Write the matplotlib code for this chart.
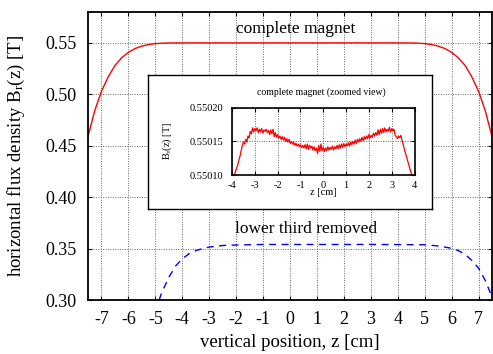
import numpy as np
import matplotlib
matplotlib.use('Agg')
import matplotlib.pyplot as plt

plt.rcParams['font.family'] = ['Liberation Serif', 'DejaVu Serif']
plt.rcParams['mathtext.fontset'] = 'custom'
plt.rcParams['mathtext.rm'] = 'Liberation Serif'
plt.rcParams['mathtext.it'] = 'Liberation Serif'
plt.rcParams['axes.unicode_minus'] = False

# ─── data ───

# complete magnet (red, solid)
z_full = [-7.5, -7.25, -7.0, -6.75, -6.5, -6.25, -6.0, -5.75, -5.5, -5.25, -5.0,
          -4.75, -4.5, -4.0, 0.0, 4.0, 4.5, 4.75, 5.0, 5.25, 5.5, 5.75, 6.0,
          6.25, 6.5, 6.75, 7.0, 7.25, 7.5]
B_full = [0.459, 0.484, 0.503, 0.517, 0.528, 0.5355, 0.5408, 0.5445, 0.5469,
          0.5484, 0.5493, 0.5497, 0.5499, 0.5500, 0.5500, 0.5500, 0.5499,
          0.5497, 0.5493, 0.5484, 0.5469, 0.5445, 0.5408, 0.5355, 0.528,
          0.517, 0.503, 0.484, 0.459]

# lower third removed (blue, dashed)
z_cut = [-4.86, -4.75, -4.5, -4.25, -4.0, -3.75, -3.5, -3.25, -3.0, -2.5, -2.0,
         -1.0, 0.0, 1.0, 2.0, 3.0, 4.0, 5.0, 5.25, 5.5, 5.75, 6.0, 6.25, 6.5,
         6.75, 7.0, 7.25, 7.5]
B_cut = [0.300, 0.308, 0.322, 0.333, 0.340, 0.345, 0.348, 0.350, 0.3515,
         0.353, 0.3535, 0.354, 0.354, 0.354, 0.354, 0.354, 0.3539, 0.3537,
         0.3532, 0.3525, 0.3515, 0.3502, 0.3480, 0.3445, 0.3385, 0.3310,
         0.3190, 0.3030]

# zoomed view of complete magnet: field in µT above 0.55010 T,
# every 0.05 cm from -3.9 to 3.9 cm
zoom_base = 0.55010
zoom_uT = [0, 5, 10, 15, 22, 28, 36, 43, 49, 46,
           53, 49, 58, 55, 65, 61, 70, 64, 69, 66,
           70, 63, 68, 64, 69, 62, 67, 65, 68, 63,
           66, 60, 67, 61, 68, 57, 63, 56, 60, 55,
           58, 53, 57, 52, 56, 50, 54, 49, 53, 47,
           50, 46, 49, 44, 47, 43, 46, 42, 45, 41,
           44, 40, 45, 39, 46, 38, 44, 40, 43, 37,
           42, 36, 40, 32, 44, 35, 46, 36, 41, 35,
           40, 36, 42, 37, 41, 38, 43, 37, 42, 39,
           44, 39, 45, 40, 46, 41, 47, 42, 46, 43,
           48, 43, 49, 45, 50, 46, 52, 47, 53, 49,
           54, 50, 56, 51, 57, 53, 58, 54, 60, 55,
           59, 56, 62, 58, 63, 59, 67, 60, 68, 62,
           69, 63, 70, 64, 68, 65, 71, 64, 69, 66,
           68, 59, 57, 54, 58, 55, 59, 52, 46, 39,
           33, 27, 21, 15, 9, 3, -2]
z_zoom = np.linspace(-3.9, 3.9, len(zoom_uT))
B_zoom = zoom_base + np.array(zoom_uT) * 1e-6

x_ticks = list(range(-7, 8))
y_ticks = [0.30, 0.35, 0.40, 0.45, 0.50, 0.55]
zoom_x_ticks = list(range(-4, 5))
zoom_y_ticks = [0.55010, 0.55015, 0.55020]


def gnuplot_axes(ax, lw=1.3, length=3):
    for s in ax.spines.values():
        s.set_linewidth(lw)
    ax.tick_params(direction='in', top=True, right=True, length=length,
                   width=0.8)
    ax.grid(True, color='#666666', linestyle=(0, (1, 1.5)), linewidth=0.7)
    ax.set_axisbelow(True)


fig = plt.figure(figsize=(4.93, 3.54), dpi=100)

# ─── main plot ───
ax = fig.add_axes([0.1785, 0.1525, 0.8195, 0.8135])
ax.plot(z_full, B_full, color='#ff0000', linewidth=1.0)
ax.plot(z_cut, B_cut, color='#0000ff', linewidth=1.0, linestyle=(0, (5, 4)))
ax.set_xlim(-7.5, 7.5)
ax.set_ylim(0.30, 0.58)
ax.set_xticks(x_ticks)
ax.set_yticks(y_ticks)
ax.set_yticklabels([f'{v:.2f}' for v in y_ticks])
ax.tick_params(labelsize=13, pad=8)
gnuplot_axes(ax)
ax.set_xlabel('vertical position, z [cm]', fontsize=13.5)
ax.set_ylabel(r'horizontal flux density B$_\mathrm{r}$(z) [T]', fontsize=13.5)
ax.xaxis.set_label_coords(0.5, -0.146)
ax.yaxis.set_label_coords(-0.176, 0.5)
ax.xaxis.label.set_va('center')
ax.yaxis.label.set_va('center')
ax.text(0.2, 0.5636, 'complete magnet', ha='center', va='center', fontsize=12.5)
ax.text(0.61, 0.3695, 'lower third removed', ha='center', va='center',
        fontsize=12.5)

# ─── inset box ───
box = fig.add_axes([0.300, 0.4096, 0.576, 0.378], zorder=2)
box.set_xticks([])
box.set_yticks([])
for s in box.spines.values():
    s.set_linewidth(1.0)
box.text(0.61, 0.87, 'complete magnet (zoomed view)', transform=box.transAxes,
         ha='center', va='center', fontsize=7)

ins = fig.add_axes([0.4706, 0.5056, 0.3702, 0.1902], zorder=3)
ins.plot(z_zoom, B_zoom, color='#ff0000', linewidth=0.9)
ins.set_xlim(-4, 4)
ins.set_ylim(0.55010, 0.55020)
ins.set_xticks(zoom_x_ticks)
ins.set_yticks(zoom_y_ticks)
ins.set_yticklabels([f'{v:.5f}' for v in zoom_y_ticks])
ins.tick_params(labelsize=7.5, pad=4)
ins.tick_params(axis='y', pad=6)
gnuplot_axes(ins, lw=1.2, length=3)
ins.set_xlabel('z [cm]', fontsize=7.5)
ins.set_ylabel(r'B$_\mathrm{r}$(z) [T]', fontsize=7.5)
ins.xaxis.set_label_coords(0.5, -0.267)
ins.yaxis.set_label_coords(-0.356, 0.5)
ins.xaxis.label.set_va('center')
ins.yaxis.label.set_va('center')

fig.savefig('out.png', dpi=100)
